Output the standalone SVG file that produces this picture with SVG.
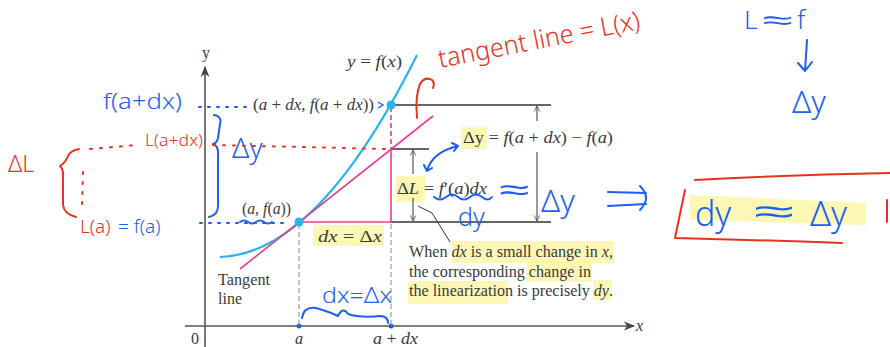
<svg xmlns="http://www.w3.org/2000/svg" width="890" height="347" viewBox="0 0 890 347">
<defs>
<style>
.ax{stroke:#555;stroke-width:1.6;fill:none}
.bk{stroke:#333;stroke-width:1.3;fill:none}
.gd{stroke:#999;stroke-width:1.2;stroke-dasharray:5 3;fill:none}
.pk{stroke:#ee3b8f;stroke-width:1.6;fill:none}
.cv{stroke:#2ab3ee;stroke-width:2.2;fill:none}
.ms{stroke:#333;stroke-width:1;fill:none}
.tx{font-family:"Liberation Serif",serif;font-size:16px;fill:#3a3a3a}
.it{font-style:italic}
.hl{fill:#fbf07a;opacity:0.55}
.hb{font-family:"Noto Sans",sans-serif;font-weight:300;fill:#1e5ef0}
.hr{font-family:"Noto Sans",sans-serif;font-weight:300;fill:#e8321e}
.sb{stroke:#1e5ef0;stroke-width:2;fill:none;stroke-linecap:round;stroke-linejoin:round}
.sr{stroke:#e8321e;stroke-width:2;fill:none;stroke-linecap:round;stroke-linejoin:round}
.db{stroke:#1e5ef0;stroke-width:2;fill:none;stroke-dasharray:2 7;stroke-linecap:round}
.dr{stroke:#e8321e;stroke-width:2;fill:none;stroke-dasharray:2 8;stroke-linecap:round}
</style>
<marker id="ah" viewBox="0 0 10 10" refX="9" refY="5" markerWidth="7" markerHeight="7" orient="auto-start-reverse"><path d="M1,1 L9,5 L1,9" fill="none" stroke="#555" stroke-width="1.2"/></marker>
<marker id="ax" viewBox="0 0 10 10" refX="9" refY="5" markerWidth="7" markerHeight="7" orient="auto"><path d="M0,1 L10,5 L0,9 L3,5 Z" fill="#444"/></marker>
</defs>
<rect width="890" height="347" fill="#fff"/>

<!-- highlights -->
<g id="highlights">
<rect class="hl" x="461" y="127" width="26" height="22"/>
<rect class="hl" x="396" y="176" width="29" height="26"/>
<rect class="hl" x="313" y="225" width="71" height="21"/>
<rect class="hl" x="452" y="241" width="162" height="22"/>
<rect class="hl" x="527" y="262" width="65" height="20"/>
<rect class="hl" x="408" y="281" width="100" height="23"/>
<rect class="hl" x="593" y="280" width="19" height="20"/>
<path class="hl" d="M690,195 L866,203 L866,225 L690,220 Z"/>
</g>

<!-- axes -->
<g id="axes">
<line class="ax" x1="205" y1="347" x2="205" y2="67" marker-end="url(#ax)"/>
<line class="ax" x1="185" y1="326" x2="634" y2="326" marker-end="url(#ax)"/>
<text class="tx" x="202" y="58" font-size="14">y</text>
<text class="tx it" x="636" y="331">x</text>
<text class="tx" x="191" y="344">0</text>
<text class="tx it" x="295" y="344" font-size="17">a</text>
<text class="tx" x="373" y="344" font-size="17" textLength="45" lengthAdjust="spacingAndGlyphs"><tspan class="it">a</tspan> + <tspan class="it">dx</tspan></text>
<circle cx="299" cy="326" r="2.5" fill="#1e5ef0"/>
<circle cx="391" cy="326" r="2.5" fill="#1e5ef0"/>
</g>

<!-- construction lines -->
<g id="connectors">
<line class="gd" x1="299" y1="224" x2="299" y2="326"/>
<line class="gd" x1="391" y1="224" x2="391" y2="326"/>
<line class="bk" x1="391" y1="105" x2="551" y2="105"/>
<line class="bk" x1="391" y1="149" x2="429" y2="149"/>
<line class="bk" x1="391" y1="222" x2="551" y2="222"/>
<line class="ms" x1="413" y1="150" x2="413" y2="174" marker-start="url(#ah)"/>
<line class="ms" x1="413" y1="198" x2="413" y2="221" marker-end="url(#ah)"/>
<line class="ms" x1="537" y1="106" x2="537" y2="121" marker-start="url(#ah)"/>
<line class="ms" x1="537" y1="152" x2="537" y2="221" marker-end="url(#ah)"/>
<polyline class="ms" points="418,206 432,213 450,242"/>
<line class="pk" x1="299" y1="222" x2="391" y2="222"/>
<line class="pk" x1="391" y1="149" x2="391" y2="222"/>
<line class="pk" x1="391" y1="107" x2="391" y2="149" stroke-dasharray="5 3"/>
</g>

<!-- curve and tangent -->
<g id="curve">
<path class="cv" d="M220,257 Q318,254 417,55"/>
<text class="tx" x="347" y="67" textLength="55" lengthAdjust="spacingAndGlyphs"><tspan class="it">y</tspan> = <tspan class="it">f</tspan>(<tspan class="it">x</tspan>)</text>
</g>
<g id="tangent">
<line class="pk" x1="240" y1="269" x2="433" y2="116"/>
<text class="tx" x="218" y="285" textLength="52" lengthAdjust="spacingAndGlyphs">Tangent</text>
<text class="tx" x="218" y="304">line</text>
</g>

<g id="point-a">
<circle cx="299" cy="222" r="4.5" fill="#2ab3ee"/>
<text class="tx" x="242" y="214" textLength="49" lengthAdjust="spacingAndGlyphs">(<tspan class="it">a</tspan>, <tspan class="it">f</tspan>(<tspan class="it">a</tspan>))</text>
</g>
<g id="point-adx">
<circle cx="391" cy="105" r="4.5" fill="#2ab3ee"/>
<text class="tx" x="253" y="110" textLength="121" lengthAdjust="spacingAndGlyphs">(<tspan class="it">a</tspan> + <tspan class="it">dx</tspan>, <tspan class="it">f</tspan>(<tspan class="it">a</tspan> + <tspan class="it">dx</tspan>))</text>
<path d="M378,102 L383,105 L378,108" fill="none" stroke="#1e5ef0" stroke-width="1.4"/>
</g>

<g id="labels">
<text class="tx it" x="318" y="242" font-size="18" textLength="64" lengthAdjust="spacingAndGlyphs">dx <tspan font-style="normal">= Δ</tspan>x</text>
<text class="tx" x="463" y="143" font-size="18" textLength="150" lengthAdjust="spacingAndGlyphs">Δy = <tspan class="it">f</tspan>(<tspan class="it">a</tspan> + <tspan class="it">dx</tspan>) − <tspan class="it">f</tspan>(<tspan class="it">a</tspan>)</text>
<text class="tx" x="397" y="194" font-size="18" textLength="90" lengthAdjust="spacingAndGlyphs">Δ<tspan class="it">L</tspan> = <tspan class="it">f</tspan>′(<tspan class="it">a</tspan>)<tspan class="it">dx</tspan></text>
<text class="tx" x="409" y="257" font-size="16.5" textLength="204" lengthAdjust="spacingAndGlyphs">When <tspan class="it">dx</tspan> is a small change in <tspan class="it">x</tspan>,</text>
<text class="tx" x="409" y="277" font-size="16.5" textLength="182" lengthAdjust="spacingAndGlyphs">the corresponding change in</text>
<text class="tx" x="409" y="296" font-size="16.5" textLength="204" lengthAdjust="spacingAndGlyphs">the linearization is precisely <tspan class="it">dy</tspan>.</text>
</g>

<!-- handwritten blue annotations -->
<g id="blue-notes">
<text class="hb" x="103" y="109" font-size="22" textLength="79" lengthAdjust="spacingAndGlyphs">f(a+dx)</text>
<line class="db" x1="199" y1="107" x2="250" y2="107"/>
<path class="sb" d="M214,115 Q222,116 220,124 L218,138 Q217,143 213,144 Q218,146 218,152 L218,206 Q218,215 209,217"/>
<text class="hb" x="232" y="158" font-size="28">Δy</text>
<line class="db" x1="200" y1="223" x2="290" y2="223"/>
<path class="sb" d="M240,222 q4,-3 8,0 t8,0 t8,0 t8,0" stroke-width="1.5"/>
<text class="hb" x="118" y="233" font-size="19">= f(a)</text>
<path class="sb" d="M427,171 Q432,152 458,146 M427,171 l-3,-6 M427,171 l5,-3 M458,146 l-6,-3 M458,146 l-4,5"/>
<path class="sb" d="M434,197 q6,5 12,0 t12,0 t12,0 t12,0 t10,0"/>
<text class="hb" x="458" y="226" font-size="25">dy</text>
<text class="hb" x="499" y="200" font-size="30" textLength="30" lengthAdjust="spacingAndGlyphs">≈</text>
<text class="hb" x="541" y="212" font-size="31">Δy</text>
<path class="sb" d="M608,192 L646,193 M608,206 L646,204 M640,186 Q652,198 640,210"/>
<text class="hb" x="322" y="303" font-size="21" textLength="70" lengthAdjust="spacingAndGlyphs">dx=Δx</text>
<path class="sb" d="M302,318 Q304,306 316,308 Q330,312 338,316 Q343,306 348,314 Q360,318 380,316 Q388,316 388,323"/>
<text class="hb" x="744" y="29" font-size="26">L</text>
<text class="hb" x="762" y="29" font-size="26" textLength="30" lengthAdjust="spacingAndGlyphs">≈</text>
<text class="hb" x="797" y="29" font-size="26">f</text>
<path class="sb" d="M807,40 L805,71 M798,63 L805,71 L812,62"/>
<text class="hb" x="792" y="113" font-size="31">Δy</text>
<text class="hb" x="695" y="226" font-size="34">dy</text>
<text class="hb" x="754" y="223" font-size="34" textLength="40" lengthAdjust="spacingAndGlyphs">≈</text>
<text class="hb" x="810" y="226" font-size="34">Δy</text>
</g>

<!-- handwritten red annotations -->
<g id="red-notes">
<text class="hr" x="440" y="68" font-size="26" transform="rotate(-11 440 68)" textLength="205" lengthAdjust="spacingAndGlyphs">tangent line = L(x)</text>
<path class="sr" d="M417,118 Q415,96 420,84 Q425,76 432,80 Q435,83 433,88"/>
<text class="hr" x="145" y="146" font-size="17" textLength="58" lengthAdjust="spacingAndGlyphs">L(a+dx)</text>
<line class="dr" x1="90" y1="149" x2="137" y2="145"/>
<line class="dr" x1="213" y1="145" x2="388" y2="149"/>
<text class="hr" x="8" y="172" font-size="23">ΔL</text>
<path class="sr" d="M79,149 Q70,151 68,156 Q66,162 60,166 Q64,170 63,178 L63,205 Q64,214 76,217"/>
<line class="dr" x1="83" y1="172" x2="82" y2="205"/>
<text class="hr" x="80" y="233" font-size="19">L(a)</text>
<path class="sr" d="M695,180 Q790,175 890,173 M685,190 L675,238 Q760,240 842,243 M887,200 L887,222"/>
</g>
</svg>
